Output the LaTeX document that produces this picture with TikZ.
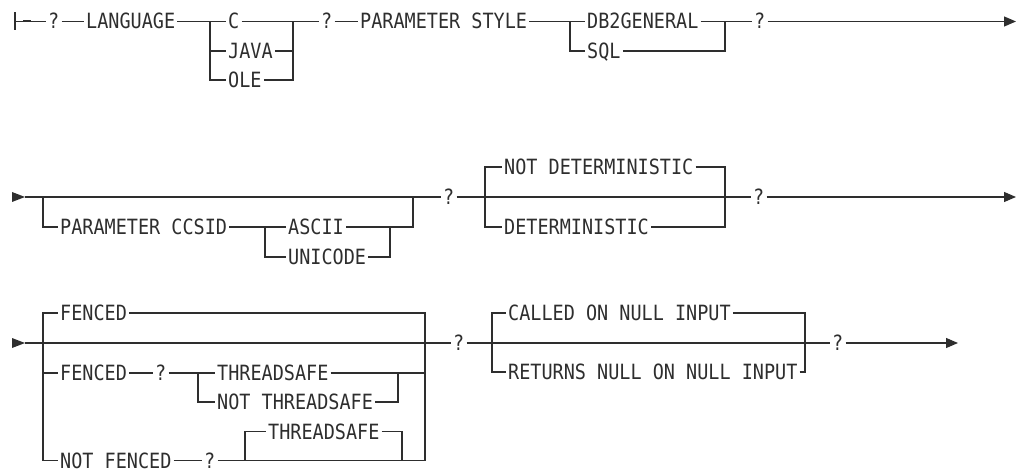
\documentclass[tikz,border=0pt]{standalone}
\usepackage{fontspec}
\newfontfamily\kwfont[FakeStretch=0.88]{DejaVu Sans Mono}
\usetikzlibrary{arrows.meta}
\definecolor{ink}{gray}{0.18}
\tikzset{
  kw/.style={font=\kwfont\fontsize{21}{25}\selectfont, text=ink, inner xsep=2pt, inner ysep=0pt,
             text height=15pt, text depth=0pt, anchor=west},
  rail/.style={draw=ink, line width=1.1pt},
  endarrow/.style={rail, -{Triangle[length=12pt,width=10pt]}},
  starttri/.style={fill=ink},
}
\begin{document}
\begin{tikzpicture}[x=1pt,y=-1pt]
\useasboundingbox (0,0) rectangle (1019,470);

% ---------------- Row 1 ----------------
\draw[rail] (15,12.5) -- (15,30.5);
\draw[draw=ink, line width=2pt] (23,21.5) -- (31,21.5);
\coordinate (s1) at (15,21.5);
\node[kw] (q1) at (46,21.5) {?};
\node[kw] (lang) at (84,21.5) {LANGUAGE};
\coordinate (b1) at (210,21.5);
\coordinate (e1) at (293,21.5);
\node[kw] (c) at (226,21.5) {C};
\node[kw] (java) at (226,51) {JAVA};
\node[kw] (ole) at (226,80) {OLE};
\node[kw] (q2) at (319,21.5) {?};
\node[kw] (pstyle) at (358,21.5) {PARAMETER STYLE};
\coordinate (b2) at (570,21.5);
\coordinate (e2) at (725,21.5);
\node[kw] (db2) at (585,21.5) {DB2GENERAL};
\node[kw] (sql) at (585,51) {SQL};
\node[kw] (q3) at (752,21.5) {?};
\coordinate (t1) at (1016,21.5);

\draw[rail] (s1) -- (q1);
\draw[rail] (q1) -- (lang);
\draw[rail] (lang) -- (c);
\draw[rail] (c) -- (e1);
\draw[rail] (b1) |- (java);
\draw[rail] (b1) |- (ole);
\draw[rail] (java) -| (e1);
\draw[rail] (ole) -| (e1);
\draw[rail] (e1) -- (q2);
\draw[rail] (q2) -- (pstyle);
\draw[rail] (pstyle) -- (db2);
\draw[rail] (db2) -- (e2);
\draw[rail] (b2) |- (sql);
\draw[rail] (sql) -| (e2);
\draw[rail] (e2) -- (q3);
\draw[endarrow] (q3) -- (t1);

% ---------------- Row 2 ----------------
\fill[starttri] (12,192) -- (25,197) -- (12,202) -- cycle;
\coordinate (s2) at (25,197);
\coordinate (b3) at (43,197);
\coordinate (e3) at (413,197);
\node[kw] (pcc) at (58,227) {PARAMETER CCSID};
\coordinate (b4) at (265,227);
\coordinate (e4) at (390,227);
\node[kw] (ascii) at (286,227) {ASCII};
\node[kw] (unicode) at (286,257) {UNICODE};
\node[kw] (q4) at (441,197) {?};
\coordinate (b5) at (485,197);
\coordinate (e5) at (725,197);
\node[kw] (nd) at (502,167) {NOT DETERMINISTIC};
\node[kw] (det) at (502,227) {DETERMINISTIC};
\node[kw] (q5) at (751,197) {?};
\coordinate (t2) at (1016,197);

\draw[rail] (s2) -- (q4);
\draw[rail] (b3) |- (pcc);
\draw[rail] (pcc) -- (ascii);
\draw[rail] (b4) |- (unicode);
\draw[rail] (unicode) -| (e4);
\draw[rail] (ascii) -| (e3);
\draw[rail] (q4) -- (q5);
\draw[rail] (b5) |- (nd);
\draw[rail] (b5) |- (det);
\draw[rail] (nd) -| (e5);
\draw[rail] (det) -| (e5);
\draw[endarrow] (q5) -- (t2);

% ---------------- Row 3 ----------------
\fill[starttri] (12,338) -- (25,343) -- (12,348) -- cycle;
\coordinate (s3) at (25,343);
\coordinate (b6) at (43,343);
\coordinate (e6) at (425,343);
\node[kw] (f1) at (58,313) {FENCED};
\node[kw] (f2) at (58,373) {FENCED};
\node[kw] (q6) at (153,373) {?};
\coordinate (b7) at (198,373);
\coordinate (e7) at (398,373);
\node[kw] (ts1) at (215,373) {THREADSAFE};
\node[kw] (nts) at (215,402) {NOT THREADSAFE};
\node[kw] (nf) at (58,460.5) {NOT FENCED};
\node[kw] (q7) at (202,460.5) {?};
\coordinate (b8) at (245,460.5);
\coordinate (e8) at (402,460.5);
\node[kw] (ts2) at (266,431.5) {THREADSAFE};
\node[kw] (q8) at (451,343) {?};
\coordinate (b9) at (492,343);
\coordinate (e9) at (805,343);
\node[kw] (cal) at (506,313) {CALLED ON NULL INPUT};
\node[kw] (ret) at (506,372) {RETURNS NULL ON NULL INPUT};
\node[kw] (q9) at (830,343) {?};
\coordinate (t3) at (958,343);

\draw[rail] (s3) -- (q8);
\draw[rail] (b6) |- (f1);
\draw[rail] (f1) -| (e6);
\draw[rail] (b6) |- (f2);
\draw[rail] (f2) -- (q6);
\draw[rail] (q6) -- (ts1);
\draw[rail] (ts1) -- (ts1 -| e6);
\draw[rail] (b7) |- (nts);
\draw[rail] (nts) -| (e7);
\draw[rail] (b6) |- (nf);
\draw[rail] (nf) -- (q7);
\draw[rail] (q7) -| (e6);
\draw[rail] (b8) |- (ts2);
\draw[rail] (ts2) -| (e8);
\draw[rail] (q8) -- (q9);
\draw[rail] (b9) |- (cal);
\draw[rail] (b9) |- (ret);
\draw[rail] (cal) -| (e9);
\draw[rail] (ret) -| (e9);
\draw[endarrow] (q9) -- (t3);
\end{tikzpicture}
\end{document}
